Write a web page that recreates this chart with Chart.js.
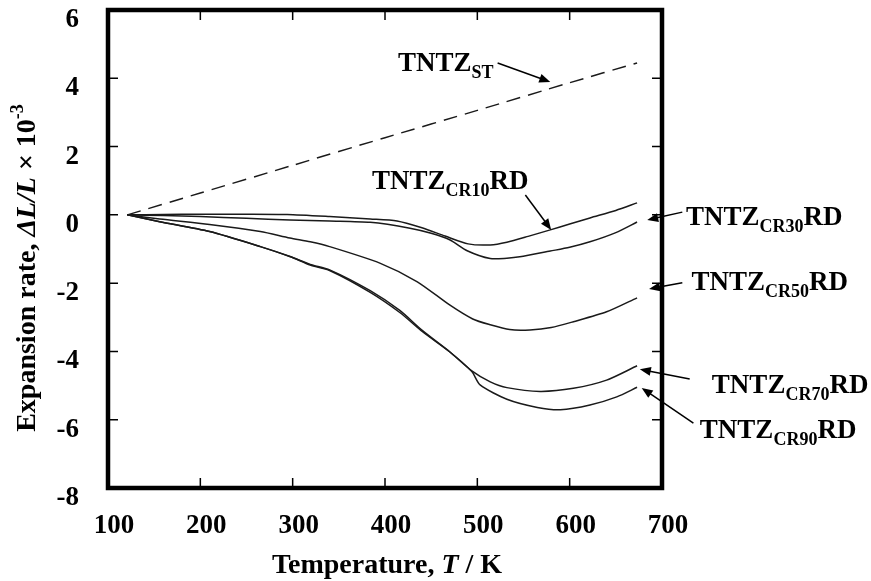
<!DOCTYPE html>
<html>
<head>
<meta charset="utf-8">
<script src="https://cdn.jsdelivr.net/npm/chart.js@4/dist/chart.umd.min.js"></script>
<style>
body{margin:0;background:#fff;}
</style>
</head>
<body>
<canvas id="myChart" width="871" height="581"></canvas>
<script>
// temperature (K) and expansion rate (x 10^-3) for each specimen
let tempST=[121,200,300,400,500,600,673];
let expST=[0,0.64,1.45,2.26,3.06,3.87,4.45];

let tempCR10=[121,160,200,250,294,340,384,413,440,465,490,514,532,555,579,600,622,650,673];
let expCR10=[0,0.01,0.02,0.02,0.01,-0.05,-0.12,-0.18,-0.38,-0.62,-0.85,-0.88,-0.80,-0.63,-0.44,-0.27,-0.09,0.13,0.35];

let tempCR30=[121,160,200,250,297,340,384,427,450,470,489,514,532,546,579,600,622,650,673];
let expCR30=[0,-0.02,-0.05,-0.10,-0.15,-0.18,-0.22,-0.39,-0.54,-0.73,-1.05,-1.28,-1.27,-1.23,-1.06,-0.95,-0.79,-0.52,-0.21];

let tempCR50=[121,156,210,265,297,319,340,395,435,470,495,514,535,557,580,604,640,673];
let expCR50=[0,-0.12,-0.28,-0.49,-0.68,-0.79,-0.93,-1.42,-1.96,-2.64,-3.05,-3.22,-3.36,-3.37,-3.30,-3.13,-2.84,-2.43];

let tempCR70=[121,156,210,265,297,319,340,384,416,441,470,494,514,532,568,604,640,673];
let expCR70=[0,-0.20,-0.49,-0.93,-1.22,-1.45,-1.61,-2.22,-2.80,-3.40,-4.01,-4.57,-4.89,-5.06,-5.17,-5.08,-4.84,-4.42];

let tempCR90=[121,156,210,265,297,319,340,384,416,441,470,494,503,532,565,590,622,651,673];
let expCR90=[0,-0.20,-0.49,-0.93,-1.22,-1.47,-1.63,-2.27,-2.86,-3.43,-4.01,-4.59,-4.98,-5.40,-5.64,-5.71,-5.57,-5.33,-5.05];

let xTickValues=[100,200,300,400,500,600,700];
let yTickValues=[-8,-6,-4,-2,0,2,4,6];

// curve labels: text pieces, label position and arrow (tail -> head), in axis units
let curveNotes=[
    {name:"TNTZ",sub:"ST",tail:"",at:[414,4.21],from:[522,4.45],to:[579,3.89]},
    {name:"TNTZ",sub:"CR10",tail:"RD",at:[386,0.76],from:[552,0.58],to:[580,-0.44]},
    {name:"TNTZ",sub:"CR30",tail:"RD",at:[726,-0.30],from:[722,0.08],to:[684,-0.15]},
    {name:"TNTZ",sub:"CR50",tail:"RD",at:[732,-2.20],from:[722,-1.99],to:[686,-2.17]},
    {name:"TNTZ",sub:"CR70",tail:"RD",at:[754,-5.22],from:[730,-4.81],to:[676,-4.52]},
    {name:"TNTZ",sub:"CR90",tail:"RD",at:[741,-6.54],from:[734,-6.10],to:[678,-5.07]}
];

const serif="'Liberation Serif','Times New Roman',serif";

function toPoints(xs,ys){
    let pts=[];
    for(let i=0;i<xs.length;i++){
        pts.push({x:xs[i],y:ys[i]});
    }
    return pts;
}

function lineSet(xs,ys,dashed){
    return {
        data:toPoints(xs,ys),
        borderColor:"#1a1a1a",
        borderWidth:1.5,
        borderDash:dashed?[14,8]:[],
        pointRadius:0,
        tension:0.25,
        fill:false
    };
}

function drawRuns(ctx,runs,x,y){
    for(let i=0;i<runs.length;i++){
        ctx.font=runs[i].font;
        ctx.fillText(runs[i].text,x,y+runs[i].dy);
        x+=ctx.measureText(runs[i].text).width;
    }
}

function runsWidth(ctx,runs){
    let w=0;
    for(let i=0;i<runs.length;i++){
        ctx.font=runs[i].font;
        w+=ctx.measureText(runs[i].text).width;
    }
    return w;
}

function drawArrow(ctx,x1,y1,x2,y2){
    let ang=Math.atan2(y2-y1,x2-x1);
    let len=11,half=4.5;
    ctx.beginPath();
    ctx.moveTo(x1,y1);
    ctx.lineTo(x2-Math.cos(ang)*len*0.8,y2-Math.sin(ang)*len*0.8);
    ctx.stroke();
    ctx.beginPath();
    ctx.moveTo(x2,y2);
    ctx.lineTo(x2-Math.cos(ang)*len-Math.sin(ang)*half,y2-Math.sin(ang)*len+Math.cos(ang)*half);
    ctx.lineTo(x2-Math.cos(ang)*len+Math.sin(ang)*half,y2-Math.sin(ang)*len-Math.cos(ang)*half);
    ctx.closePath();
    ctx.fill();
}

const framePlugin={
    id:"frame",
    afterDraw(chart){
        const ctx=chart.ctx,a=chart.chartArea,sx=chart.scales.x,sy=chart.scales.y;
        ctx.save();
        ctx.strokeStyle="#000";
        ctx.fillStyle="#000";

        // inner tick marks on all four sides
        ctx.lineWidth=1.5;
        ctx.beginPath();
        for(let i=1;i<xTickValues.length-1;i++){
            let px=sx.getPixelForValue(xTickValues[i]);
            ctx.moveTo(px,a.bottom);ctx.lineTo(px,a.bottom-10);
            ctx.moveTo(px,a.top);ctx.lineTo(px,a.top+10);
        }
        for(let i=1;i<yTickValues.length-1;i++){
            let py=sy.getPixelForValue(yTickValues[i]);
            ctx.moveTo(a.left,py);ctx.lineTo(a.left+10,py);
            ctx.moveTo(a.right,py);ctx.lineTo(a.right-10,py);
        }
        ctx.stroke();

        ctx.lineWidth=4.5;
        ctx.strokeRect(a.left,a.top,a.right-a.left,a.bottom-a.top);

        // axis titles
        ctx.textBaseline="alphabetic";
        ctx.textAlign="left";
        let bold="bold 28px "+serif,boldIt="italic bold 28px "+serif,small="bold 18px "+serif;
        let xRuns=[{text:"Temperature, ",font:bold,dy:0},{text:"T",font:boldIt,dy:0},{text:" / K",font:bold,dy:0}];
        let xw=runsWidth(ctx,xRuns);
        drawRuns(ctx,xRuns,(a.left+a.right)/2-xw/2+2,573);

        let yRuns=[{text:"Expansion rate, ",font:bold,dy:0},{text:"\u0394L/L",font:boldIt,dy:0},
            {text:" \u00d7 10",font:bold,dy:0},{text:"-3",font:small,dy:-12}];
        let yw=runsWidth(ctx,yRuns);
        ctx.save();
        ctx.translate(35,268);
        ctx.rotate(-Math.PI/2);
        drawRuns(ctx,yRuns,-yw/2,0);
        ctx.restore();

        // curve labels with arrows
        let main="bold 27px "+serif,sub="bold 18px "+serif;
        ctx.lineWidth=1.5;
        for(let i=0;i<curveNotes.length;i++){
            let n=curveNotes[i];
            let runs=[{text:n.name,font:main,dy:0},{text:n.sub,font:sub,dy:7},{text:n.tail,font:main,dy:0}];
            drawRuns(ctx,runs,sx.getPixelForValue(n.at[0]),sy.getPixelForValue(n.at[1]));
            drawArrow(ctx,sx.getPixelForValue(n.from[0]),sy.getPixelForValue(n.from[1]),
                sx.getPixelForValue(n.to[0]),sy.getPixelForValue(n.to[1]));
        }
        ctx.restore();
    }
};

function createChart(){
    const ctx=document.getElementById("myChart").getContext("2d");
    new Chart(ctx,{
        type:"line",
        data:{
            datasets:[
                lineSet(tempST,expST,true),
                lineSet(tempCR10,expCR10,false),
                lineSet(tempCR30,expCR30,false),
                lineSet(tempCR50,expCR50,false),
                lineSet(tempCR70,expCR70,false),
                lineSet(tempCR90,expCR90,false)
            ]
        },
        options:{
            responsive:false,
            animation:false,
            devicePixelRatio:1,
            layout:{padding:{top:10,right:209,left:0,bottom:0}},
            plugins:{legend:{display:false},tooltip:{enabled:false}},
            scales:{
                x:{
                    type:"linear",min:100,max:700,
                    grid:{display:false},
                    border:{display:false},
                    afterBuildTicks:function(s){s.ticks=xTickValues.map(function(v){return {value:v};});},
                    afterFit:function(s){s.height=93;s.paddingLeft=0;s.paddingRight=0;},
                    ticks:{color:"#000",padding:14,labelOffset:6,font:{family:serif,size:27,weight:"bold"}}
                },
                y:{
                    min:-8,max:6,
                    grid:{display:false},
                    border:{display:false},
                    afterBuildTicks:function(s){s.ticks=yTickValues.map(function(v){return {value:v};});},
                    afterFit:function(s){s.width=108;s.paddingTop=0;s.paddingBottom=0;},
                    ticks:{color:"#000",padding:21,labelOffset:10,font:{family:serif,size:27,weight:"bold"}}
                }
            }
        },
        plugins:[framePlugin]
    });
}

window.onload=function(){
    createChart();
}
</script>
</body>
</html>
